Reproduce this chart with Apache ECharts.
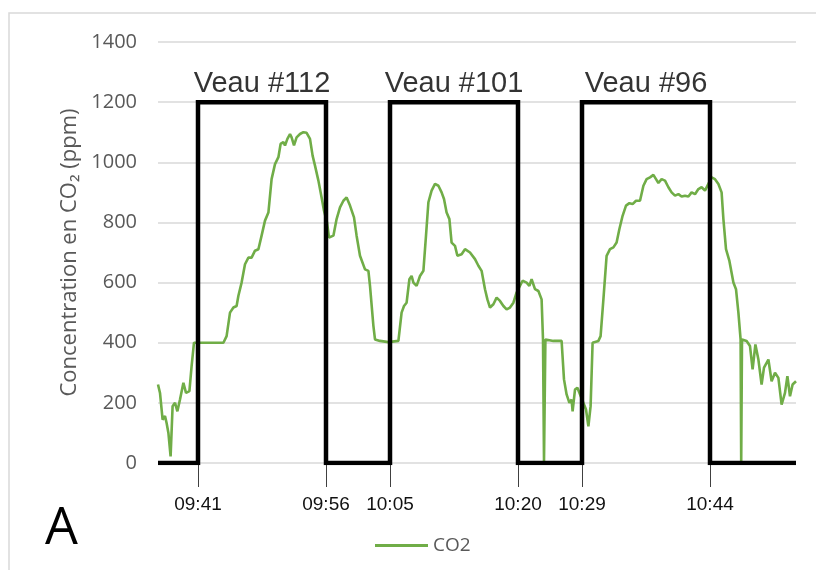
<!DOCTYPE html>
<html>
<head>
<meta charset="utf-8">
<script src="https://cdn.jsdelivr.net/npm/echarts@6/dist/echarts.min.js"></script>
<style>html,body{margin:0;padding:0;background:#fff;}#c{width:816px;height:570px;}</style>
</head>
<body>
<div id="c"></div>
<script>
// ---- data (x = sample index along the recording) ----
const co2Sample = [0,1,2.3,3.5,4.3,5.2,6.3,7.3,8.5,9.7,11,12.7,14,15.7,16.8,18,32.7,34.3,36,37.7,39.3,40.2,41.8,43.5,45.2,46.8,48.5,50.2,51.8,53.5,55.2,56.8,58.5,60.2,61.3,62.7,63.5,64.7,66,66.8,68,69.3,71,72.7,74.3,76,77.3,78.5,80.2,81.8,83,84.5,85.5,86.3,87.7,89.3,91,92.7,94.3,96,98,99.3,101,103.5,105.2,106,107.7,108.5,111,115.2,120.2,121.8,123,124.3,125.7,126.8,127.7,129.3,131,132.7,134,135.2,136.8,138.5,140.2,141.8,143,144.3,145.7,146.8,148.5,149.7,151.8,153.5,156,158.5,160.2,161.8,163.5,164.7,166,167.7,169.3,171,172.7,174.3,176,177.7,179.3,182.3,184.3,185.7,186.8,188.5,190.2,191.8,192.5,193,193.7,197.7,201.8,203,204.3,205.7,206.8,207.3,208.5,209.7,210.5,214,215.2,216.3,217.3,220.2,221.3,222.7,224.3,226,227.7,229.3,230.7,232.3,234,235.7,237.3,239,241,242.7,244.3,246,247.7,249,250.2,251.8,253.5,255.2,256.8,258.5,260.2,261.8,263.5,265.2,266.8,268.5,270.2,271.8,273.5,276.8,278.5,280.2,281.8,282.7,284,285.7,287.7,289,290.2,291.3,291.6,292,294.3,296,297.3,298.7,300.2,301.8,303,305.2,306.8,308.5,310.2,311.8,313.5,314.7,316,317.3,319];
const co2Value  = [261,233,144,156,133,100,22,189,200,172,211,267,233,239,322,400,400,422,500,517,522,556,600,661,683,683,706,711,756,806,833,944,994,1017,1061,1067,1056,1078,1094,1083,1056,1083,1094,1100,1098,1078,1022,989,939,883,839,800,750,744,756,811,850,872,883,856,817,756,689,644,639,589,456,411,406,402,406,500,522,533,611,622,600,589,622,639,756,867,906,928,922,900,878,833,811,733,722,689,694,711,700,678,656,639,578,544,517,528,550,539,522,511,517,533,567,606,600,589,611,578,572,544,411,5,411,406,406,278,228,200,211,172,244,250,250,178,122,189,400,406,422,544,689,711,717,733,778,822,856,864,861,872,872,922,944,950,958,944,931,944,939,917,900,889,894,886,889,886,900,894,911,917,906,950,944,928,900,811,711,672,600,578,500,411,5,411,406,389,311,394,344,261,317,344,272,300,283,194,233,289,222,261,272];

const calfLabels = ['Veau #112','Veau #101','Veau #96'];
const calfStart  = [20, 116, 212];
const calfEnd    = [84, 180, 276];
const presenceLevel = 1200;
const sampleMax = 319;

const tickSamples = [20, 84, 116, 180, 212, 276];
const tickLabels  = ['09:41','09:56','10:05','10:20','10:29','10:44'];

// ---- build series data ----
const co2Data = co2Sample.map((x, i) => [x, co2Value[i]]);
const stepData = [[0, 0]];
calfStart.forEach((s, i) => {
  stepData.push([s, 0], [s, presenceLevel], [calfEnd[i], presenceLevel], [calfEnd[i], 0]);
});
stepData.push([sampleMax, 0]);
const calfLabelData = calfLabels.map((l, i) => ({ value: [(calfStart[i] + calfEnd[i]) / 2, presenceLevel], name: l }));

const grey = '#595959';
const chart = echarts.init(document.getElementById('c'), null, { renderer: 'canvas' });
chart.setOption({
  animation: false,
  backgroundColor: '#fff',
  grid: { left: 158, right: 20, top: 42, bottom: 107 },
  legend: {
    data: [{ name: 'CO2', icon: 'rect' }],
    left: 370, top: 531,
    itemWidth: 53, itemHeight: 3, itemGap: 4,
    itemStyle: { color: '#70AD47' },
    textStyle: { color: grey, fontSize: 19, fontFamily: 'Open Sans', padding: [0, 0, 0, 0] }
  },
  graphic: [
    { type: 'rect', shape: { x: 9, y: 13, width: 830, height: 590 }, style: { fill: 'none', stroke: '#d9d9d9', lineWidth: 1.5 }, silent: true },
    { type: 'text', x: 45, y: 529, style: { text: 'A', fontSize: 52, fontFamily: 'Open Sans', fill: '#000', verticalAlign: 'middle' } }
  ],
  xAxis: {
    type: 'value', min: 0, max: sampleMax, offset: 7,
    axisLine: { show: false },
    splitLine: { show: false },
    axisTick: { show: true, customValues: tickSamples, length: 24, lineStyle: { color: '#404040', width: 1 } },
    axisLabel: {
      customValues: tickSamples, margin: 25,
      formatter: v => tickLabels[tickSamples.indexOf(v)] || '',
      fontSize: 19, color: '#111', fontFamily: "'Liberation Sans Narrow', 'Arial Narrow', 'Liberation Sans', sans-serif"
    }
  },
  yAxis: {
    type: 'value', min: 0, max: 1400, interval: 200,
    axisLine: { show: false }, axisTick: { show: false },
    splitLine: { lineStyle: { color: '#d9d9d9', width: 1.5 } },
    axisLabel: { color: grey, fontSize: 20, fontFamily: 'Open Sans', margin: 21, formatter: v => String(v) },
    name: 'Concentration en CO\u2082 (ppm)', nameLocation: 'middle', nameGap: 77,
    nameTextStyle: { color: grey, fontSize: 22, fontFamily: 'Open Sans' }
  },
  series: [
    { name: 'CO2', type: 'line', data: co2Data, symbol: 'none', lineStyle: { color: '#70AD47', width: 2.6 }, itemStyle: { color: '#70AD47' }, z: 2 },
    { name: 'presence', type: 'line', data: stepData, symbol: 'none', lineStyle: { color: '#000', width: 4.5, join: 'miter' }, itemStyle: { color: '#000' }, z: 3 },
    { name: 'calf', type: 'scatter', data: calfLabelData, symbolSize: 0, z: 4,
      label: { show: true, position: 'top', distance: 4, formatter: p => p.name, color: '#000', fontSize: 29, fontFamily: "'Liberation Sans', Arial, sans-serif" } }
  ]
});
</script>
</body>
</html>
